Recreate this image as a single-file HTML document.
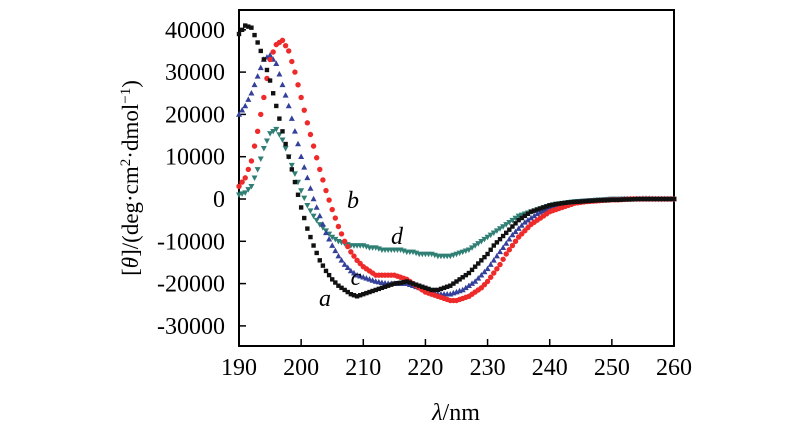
<!DOCTYPE html>
<html><head><meta charset="utf-8"><style>
body{margin:0;background:#fff}
svg text{font-family:"Liberation Serif",serif;fill:#000}
</style></head><body>
<svg width="800" height="442" viewBox="0 0 800 442">
<g id="plot"></g>
</svg>
<script>
const wavelengths=[];for(let w=190;w<=260;w++)wavelengths.push(w);
const seriesA=[39,41,40.5,37,33,28,22,16,10,4,-2,-7,-11,-14.5,-17,-19,-20.5,-21.5,-22.5,-23,-22.5,-22,-21.5,-21,-20.5,-20,-19.8,-19.5,-20,-20.5,-21,-21.5,-21.5,-21,-20.5,-19.5,-18.5,-17.5,-16,-14.5,-13,-11,-9.5,-8,-6.5,-5,-4,-3,-2.5,-2,-1.5,-1.2,-1,-0.8,-0.7,-0.6,-0.5,-0.4,-0.3,-0.3,-0.2,-0.2,-0.1,-0.1,0,0,0,0,0,0,0];
const seriesB=[3,5,9,16,24,33,36.5,37.5,35,30,24,18,12.5,7,2,-2.5,-6.5,-10,-12.5,-14.5,-16,-17,-18,-18,-18,-18,-18.5,-19,-20,-21,-22,-22.5,-23,-23.5,-24,-24,-23.5,-23,-22,-21,-19.5,-17.5,-15.5,-13,-11,-9,-7.5,-6,-5,-4,-3,-2.5,-2,-1.5,-1,-0.8,-0.6,-0.5,-0.4,-0.3,-0.2,-0.2,-0.1,0,0,0,0,0,0,0,0];
const seriesC=[20,22,25,29,33,34,32,27,22,16,10,5,0,-4,-8,-11,-13.5,-15.5,-17,-18,-18.5,-19,-19.5,-19.8,-20,-20,-20,-20,-20.5,-21,-21.5,-22,-22.5,-22.5,-22.5,-22,-21.5,-20.5,-19.5,-18,-16.5,-14.5,-12.5,-10.5,-8.5,-7,-5.5,-4.5,-3.5,-2.8,-2.2,-1.8,-1.4,-1.1,-0.8,-0.6,-0.5,-0.4,-0.3,-0.2,-0.1,-0.1,0,0,0,0.1,0.1,0,0,0,0];
const seriesD=[1,1.5,3,7,12,15.5,16.5,14,10,6,2,-1.5,-4,-6,-7.5,-9,-10,-10.5,-11,-11,-11,-11.5,-11.5,-12,-12,-12,-12,-12.5,-12.5,-13,-13,-13,-13.5,-13.5,-13.5,-13,-12.5,-12,-11,-10,-9,-8,-7,-6,-5,-4,-3.5,-3,-2.5,-2,-1.5,-1.2,-1,-0.8,-0.6,-0.5,-0.4,-0.3,-0.2,-0.1,0,0,0,0,0,0,0,0,0,0,0];
const xTicks=[190,200,210,220,230,240,250,260];
const yTicks=[40000,30000,20000,10000,0,-10000,-20000,-30000];
const NS="http://www.w3.org/2000/svg";
const X0=239,X1=674,Y0=10,Y1=346;
const xs=w=>X0+(w-190)/70*(X1-X0);
const ys=v=>199-v/10000*42.3;
const g=document.getElementById('plot');
function mk(t,a){const e=document.createElementNS(NS,t);for(const k in a)e.setAttribute(k,a[k]);g.appendChild(e);return e;}
let e=mk('rect',{x:X0,y:Y0,width:X1-X0,height:Y1-Y0,fill:'none',stroke:'#000','stroke-width':2});


xTicks.forEach(t=>{
 let l=mk('line',{x1:xs(t),x2:xs(t),y1:Y1,y2:Y1-7,stroke:'#000','stroke-width':1.5});
 
 
 let tx=mk('text',{x:xs(t),y:375,'text-anchor':'middle','font-size':24});tx.textContent=t;
 
 
});
yTicks.forEach(t=>{
 let l=mk('line',{x1:X0,x2:X0+7,y1:ys(t),y2:ys(t),stroke:'#000','stroke-width':1.5});
 
 
 let tx=mk('text',{x:225,y:ys(t)+8,'text-anchor':'end','font-size':24});tx.textContent=t;
 
 
});
function marker(type,x,y,c){
 let el;
 if(type==='sq')el=mk('rect',{x:x-2.2,y:y-2.2,width:4.4,height:4.4,fill:c});
 else if(type==='ci')el=mk('circle',{cx:x,cy:y,r:2.7,fill:c});
 else if(type==='tu')el=mk('polygon',{points:`${x},${y-3.2} ${x-3},${y+2.3} ${x+3},${y+2.3}`,fill:c});
 else el=mk('polygon',{points:`${x},${y+3.2} ${x-3},${y-2.3} ${x+3},${y-2.3}`,fill:c});
 return el;
}
const defs=[[seriesD,'td','#2f7f75','series-d'],[seriesC,'tu','#34409a','series-c'],[seriesB,'ci','#ee2a2a','series-b'],[seriesA,'sq','#111','series-a']];
defs.forEach(([s,t,c,n])=>{
 for(let i=0;i<s.length;i++){
  const m=marker(t,xs(wavelengths[i]),ys(s[i]*1000),c);
  
  
  if(i<s.length-1){
   const m2=marker(t,(xs(wavelengths[i])+xs(wavelengths[i+1]))/2,ys((s[i]+s[i+1])/2*1000),c);
   
   
  }
 }
});
[['b',353,208,'label-b'],['d',397,244,'label-d'],['c',356,285,'label-c'],['a',325,306,'label-a']].forEach(([t,x,y,n])=>{
 const tx=mk('text',{x:x,y:y,'font-size':24,'font-style':'italic','text-anchor':'middle'});tx.textContent=t;
 
 
});
let xt=mk('text',{x:456,y:420,'text-anchor':'middle','font-size':24});
xt.innerHTML='<tspan font-style="italic">λ</tspan>/nm';


let yt=mk('text',{x:0,y:0,'text-anchor':'middle','font-size':23,transform:'translate(138,178) rotate(-90)'});
yt.innerHTML='[<tspan font-style="italic">θ</tspan>]/(deg·cm<tspan font-size="15" dy="-8">2</tspan><tspan dy="8">·dmol</tspan><tspan font-size="15" dy="-8">−1</tspan><tspan dy="8">)</tspan>';


</script>
</body></html>
